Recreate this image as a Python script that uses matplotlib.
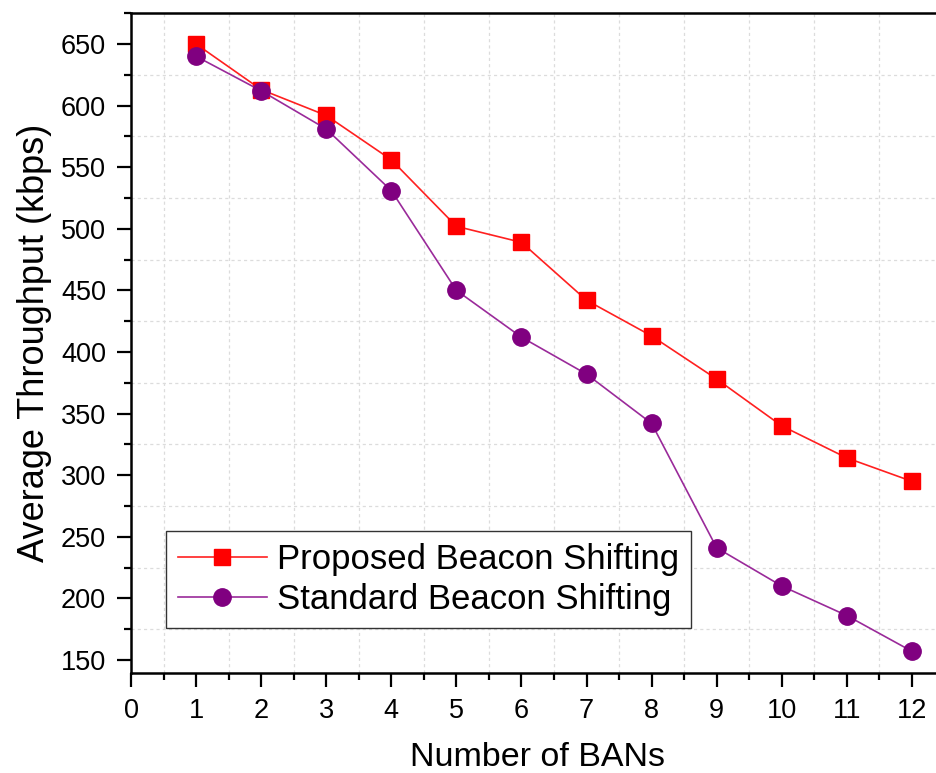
import matplotlib
matplotlib.use('Agg')
import matplotlib.pyplot as plt
from matplotlib.ticker import MultipleLocator

plt.rcParams['font.family'] = ['Liberation Sans', 'DejaVu Sans']

bans = [1, 2, 3, 4, 5, 6, 7, 8, 9, 10, 11, 12]
proposed = [650, 613, 592, 556, 502, 489, 442, 413, 378, 340, 314, 295]
standard = [640, 612, 581, 531, 450, 412, 382, 342, 241, 210, 186, 157]

fig = plt.figure(figsize=(9.36, 7.73), dpi=100)
ax = fig.add_axes([0.140, 0.1294, 0.869, 0.8538])

ax.plot(bans, proposed, color='#ff2020', lw=1.2, marker='s', ms=11.5,
        mec='#ff0000', mfc='#ff0000', label='Proposed Beacon Shifting', zorder=3)
ax.plot(bans, standard, color='#9a2a9a', lw=1.2, marker='o', ms=12.5,
        mec='#800080', mfc='#800080', label='Standard Beacon Shifting', zorder=3)

ax.set_xlim(0, 12.5)
ax.set_ylim(139.4, 675.2)
ax.xaxis.set_major_locator(MultipleLocator(1))
ax.xaxis.set_minor_locator(MultipleLocator(0.5))
ax.yaxis.set_major_locator(MultipleLocator(50))
ax.yaxis.set_minor_locator(MultipleLocator(25))

# grid only on the minor positions, like Origin
ax.grid(False)
ax.grid(which='minor', color='#dcdcdc', linestyle=(0, (2.5, 2.5)), lw=0.9)
ax.set_axisbelow(True)

for s in ['left', 'bottom', 'top']:
    ax.spines[s].set_linewidth(1.8)
ax.spines['right'].set_visible(False)

ax.tick_params(which='major', direction='out', length=10, width=1.6,
               labelsize=19.5, pad=8, top=False, right=False)
ax.tick_params(which='minor', direction='out', length=5, width=1.6,
               top=False, right=False)

ax.set_xlabel('Number of BANs', fontsize=24.5, labelpad=13)
ax.set_ylabel('Average Throughput (kbps)', fontsize=26, labelpad=6)

leg = ax.legend(loc='lower left', bbox_to_anchor=(0.043, 0.068), borderaxespad=0,
                fontsize=25, frameon=True, fancybox=False, edgecolor='#333333',
                framealpha=1, borderpad=0.35, labelspacing=0.2, handlelength=2.55,
                handletextpad=0.3)
leg.get_frame().set_linewidth(1.0)

fig.savefig('out.png', dpi=100)
